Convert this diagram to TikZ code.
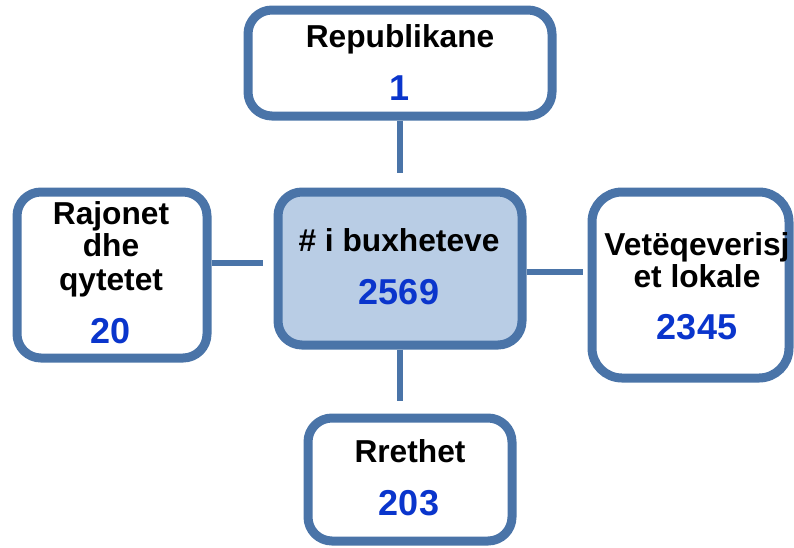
\documentclass[tikz,border=0pt]{standalone}
\usepackage{fontspec}
\setmainfont{Liberation Sans}
\definecolor{bordblue}{HTML}{4A74A8}
\definecolor{fillblue}{HTML}{B9CDE5}
\definecolor{numblue}{HTML}{0A35CC}
\begin{document}
\begin{tikzpicture}[x=1pt,y=-1pt,
  box/.style={draw=bordblue,line width=9pt,rounded corners=24pt,fill=white,inner sep=0pt,rectangle},
  lbl/.style={anchor=base,inner sep=0pt,font=\fontsize{31.7}{33}\selectfont\bfseries},
  num/.style={anchor=base,inner sep=0pt,text=numblue,font=\fontsize{36}{38}\selectfont\bfseries},
  conn/.style={draw=bordblue,line width=6.5pt}]
\useasboundingbox (0,0) rectangle (794,547);
% boxes
\node[box,minimum width=304pt,minimum height=106pt] (top) at (400,63) {};
\node[box,fill=fillblue,minimum width=244pt,minimum height=153pt] (ctr) at (400,268.5) {};
\node[box,minimum width=190pt,minimum height=166pt] (lft) at (112,275) {};
\node[box,rounded corners=30pt,minimum width=197pt,minimum height=186pt] (rgt) at (690.5,285) {};
\node[box,minimum width=204pt,minimum height=123pt] (bot) at (410,479.5) {};
% connector ends
\coordinate (ctop) at (400,173);
\coordinate (clft) at (263,263);
\coordinate (crgt) at (583,272);
\coordinate (cbot) at (400,401);
\draw[conn] (top.south) -- (ctop);
\draw[conn] (lft.east |- clft) -- (clft);
\draw[conn] (ctr.east |- crgt) -- (crgt);
\draw[conn] (ctr.south -| cbot) -- (cbot);
% texts
\node[lbl] (t1) at (400,47) {Republikane};
\node[num] (n1) at (400,100) {1};
\node[lbl] (t2) at (399,251.5) {\# i buxheteve};
\node[num] (n2) at (399,304) {2569};
\node[lbl] (t3a) at (111,224) {Rajonet};
\node[lbl] (t3b) at (111,256.5) {dhe};
\node[lbl] (t3c) at (111,290) {qytetet};
\node[num] (n3) at (111,343) {20};
\node[lbl] (t4a) at (697,255) {Vetëqeverisj};
\node[lbl] (t4b) at (697,287) {et lokale};
\node[num] (n4) at (697,339) {2345};
\node[lbl] (t5) at (410,462.5) {Rrethet};
\node[num] (n5) at (409,515) {203};
\end{tikzpicture}
\end{document}
